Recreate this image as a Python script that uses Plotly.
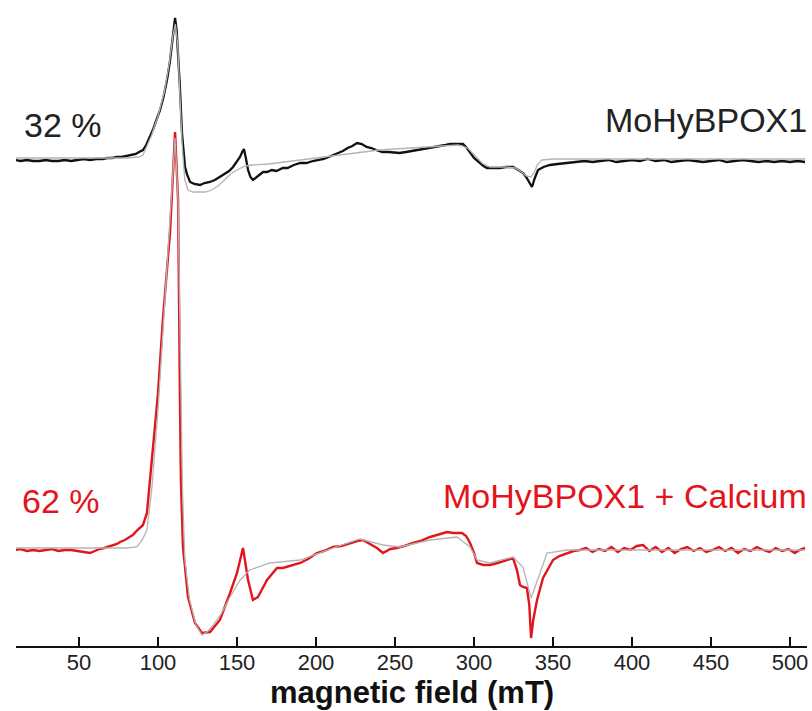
import plotly.graph_objects as go

# ---------------- data ----------------
# magnetic field (mT) and EPR signal (arbitrary units, baseline = 0)
black_field = [9.5, 13, 17, 21, 25, 29, 33, 37, 41, 45, 49, 53, 57, 61, 65, 68, 71, 74, 77, 80, 83, 86, 88, 90.5,
               92.5, 94.9, 97, 99, 101.3, 103.5, 105.7, 107.5, 108.9, 110, 110.8, 111.8, 112.7, 113.8, 115.2, 116.2,
               117.1, 118.5, 120.3, 123, 126.6, 129.5, 132.9, 136, 139.2, 142, 145, 147.5, 150, 151.9, 153.3, 154.4,
               155.6, 157, 158.5, 160.1, 162.5, 165, 166.5, 169, 172, 175, 179, 182, 186, 190, 194, 198, 201, 205,
               208, 211, 214, 217, 220, 223, 226, 229, 232, 235, 238, 242, 246, 250, 253, 257, 261, 265, 269, 274,
               278, 282, 285, 289, 293, 295.5, 297.5, 300, 303.8, 306, 308.2, 312, 316.5, 320, 324.7, 328, 331, 333,
               335, 336.7, 338.5, 340.5, 344, 348, 353, 359, 364, 370, 375, 380, 385, 390, 395, 400, 405, 410, 415,
               420, 425, 430, 435, 440, 445, 450, 455, 460, 465, 470, 475, 480, 485, 490, 495, 500, 505, 509.5]
black_signal = [0, -1, 0, -1, -1, 0, -1, -1, 0, -1, 0, 1, 0, 1, 1, 2, 2, 3, 3, 4, 5, 6, 8, 10,
                15, 23, 31, 40, 50, 63, 80, 98, 117, 133, 142, 130, 110, 75, 27, 5,
                -7, -15, -22, -24, -25, -23, -22, -20, -17, -14, -11, -7, -2, 3, 8, 11,
                2, -10, -17, -20, -17, -14, -12, -12, -10, -11, -8, -8, -5, -3, -3, -1, 0, 1,
                3, 5, 7, 9, 12, 14, 17, 16, 13, 12, 10, 8, 8, 7, 7, 8, 9, 10, 11, 13,
                14, 15, 16, 16, 16, 12, 7, 2, -3, -6, -8, -8, -8, -7, -7, -10, -13, -17,
                -22, -27, -18, -10, -7, -5, -4, -3, -2, -1, -2, -1, 0, -2, -1, 0, -1, 1, -1,
                0, -2, -1, 0, -1, -2, -1, 0, -2, -1, 0, -1, -2, -1, -2, -1, -2, -1, -2]

black_fit_field = [9.5, 30, 60, 80, 88, 90.5, 93, 96, 100, 104, 107, 109.5, 111, 112.5, 114, 115.5, 117, 119,
                   122, 126, 130, 134, 138, 142, 146, 150, 155, 160, 170, 180, 200, 220, 240, 260, 280, 290,
                   296, 300, 305, 310, 320, 326, 330, 333, 336, 338, 340, 343, 350, 400, 450, 509.5]
black_fit_signal = [2, 2, 2, 2, 3, 5, 14, 25, 44, 68, 95, 125, 136, 115, 60, 10, -20, -30,
                    -32, -32, -32, -30, -26, -20, -14, -10, -6, -5, -4, -2, 2, 6, 10, 12, 14, 15,
                    12, 5, -3, -7, -7, -8, -12, -16, -17, -13, -5, 0, 1, 1, 1, 1]

red_field = [9.5, 13, 17, 21, 25, 29, 33, 37, 41, 45, 49, 53, 57, 60, 63, 66, 68, 71, 74, 76, 79, 82, 84, 87,
             90.5, 93, 95, 97.5, 100, 103.2, 107.6, 110.8, 112.7, 113.9, 114.5, 115.8, 119, 123.4, 127.8, 132.9,
             139.2, 145.6, 150, 153.8, 157, 160.1, 163.3, 169, 172, 175.3, 179, 184, 190, 195, 200.6, 205, 210.8,
             216, 221.5, 226, 229.7, 234, 238.6, 242.4, 247, 251, 256, 261.4, 266, 272.2, 277, 282.9, 287,
             292.4, 295, 297.5, 300, 301.9, 306, 310.1, 315, 320.9, 324.7, 327.2, 329.1, 331, 333.5, 335, 336.1,
             337.5, 339.9, 343.7, 347, 350, 354, 358.9, 363, 367, 371, 375, 379, 383, 387, 391, 395, 399, 403,
             407, 411, 415, 419, 423, 427, 431, 435, 439, 443, 447, 451, 455, 459, 463, 467, 471, 475, 479, 483,
             487, 491, 495, 499, 503, 506, 509.5]
red_signal = [0, 1, -1, 0, -1, 0, 1, -1, 0, 0, -1, -2, -3, -1, 1, 2, 3, 5, 6, 8, 10, 13, 15, 20,
              25, 37, 70, 110, 157, 233, 317, 418, 350, 150, 70, 3, -47, -73, -83, -82,
              -70, -43, -23, 2, -30, -50, -47, -30, -24, -18, -18, -16, -13, -9, -3, -1, 3,
              4, 7, 9, 10, 6, 2, -3, 1, 2, 4, 7, 9, 13, 15, 18, 17,
              17, 14, 7, -3, -13, -15, -15, -13, -10, -8, -20, -35, -37, -38, -55, -88,
              -70, -50, -28, -18, -10, -6, -3, -1, 0, 2, -2, 1, -1, 3, -2, 2, 0, 4,
              5, -1, 3, -2, 2, -3, 1, 3, -1, 2, -2, 0, 3, -1, 2, -3, 1, -1, 3, 0,
              -2, 2, -1, 1, -3, 0, 2, -1]

red_fit_field = [9.5, 40, 80, 86.7, 90, 93, 96, 100, 104, 108, 110.8, 112.7, 114, 115.5, 117, 120, 124, 127.8,
                 131, 135, 140, 145.6, 152, 158, 170.9, 190, 210.8, 227.8, 242.4, 253.2, 272.2, 289.2, 297.5,
                 301.9, 310.1, 324.7, 331, 336.1, 341.8, 346.2, 358.9, 400, 509.5]
red_fit_signal = [2, 2, 2, 3, 10, 20, 60, 140, 240, 340, 412, 350, 200, 60, -10, -50, -75, -85,
                  -82, -75, -64, -47, -30, -20, -13, -10, 2, 11, 5, 3, 10, 13, 3,
                  -10, -13, -7, -17, -48, -23, -3, 0, 0, 0]

tick_values = [50, 100, 150, 200, 250, 300, 350, 400, 450, 500]
tick_labels = ["50", "100", "150", "200", "250", "300", "350", "400", "450", "500"]

# ---------------- layout constants ----------------
BLACK_OFFSET = 486
RED_OFFSET = 96
RED = "#e3141b"
FIT = "#b4b4b4"
FONT = "Liberation Sans, Arial, sans-serif"

fig = go.Figure()

def add(xs, ys, offset, color, width):
    fig.add_trace(go.Scatter(x=xs, y=[v + offset for v in ys], mode="lines",
                             line=dict(color=color, width=width), hoverinfo="skip", showlegend=False))

add(black_field, black_signal, BLACK_OFFSET, "#111111", 2.3)
add(black_fit_field, black_fit_signal, BLACK_OFFSET, FIT, 1.3)
add(red_field, red_signal, RED_OFFSET, RED, 2.4)
add(red_fit_field, red_fit_signal, RED_OFFSET, FIT, 1.3)

fig.add_annotation(xref="paper", x=0.007, y=521, text="32 %", showarrow=False, xanchor="left", yanchor="middle",
                   font=dict(family=FONT, size=34, color="#222222"))
fig.add_annotation(xref="paper", x=1.002, y=526, text="MoHyBPOX1", showarrow=False, xanchor="right",
                   yanchor="middle", font=dict(family=FONT, size=34, color="#222222"))
fig.add_annotation(xref="paper", x=0.005, y=145, text="62 %", showarrow=False, xanchor="left", yanchor="middle",
                   font=dict(family=FONT, size=34, color=RED))
fig.add_annotation(xref="paper", x=1.002, y=150, text="MoHyBPOX1 + Calcium", showarrow=False, xanchor="right",
                   yanchor="middle", font=dict(family=FONT, size=34, color=RED))
fig.add_annotation(xref="paper", yref="paper", x=0.5, y=-0.072, text="<b>magnetic field (mT)</b>",
                   showarrow=False, xanchor="center", yanchor="middle",
                   font=dict(family=FONT, size=31, color="#111111"))

fig.update_layout(
    width=812, height=711,
    margin=dict(l=16, r=5, t=5, b=65, autoexpand=False),
    paper_bgcolor="white", plot_bgcolor="white",
    xaxis=dict(range=[10.13, 510.76], showline=True, linecolor="#111111", linewidth=2,
               ticks="inside", ticklen=9, tickwidth=1.5, tickcolor="#111111",
               tickvals=tick_values, ticktext=tick_labels, showgrid=False, zeroline=False,
               automargin=False, ticklabelstandoff=-4,
               tickfont=dict(family=FONT, size=22, color="#222222")),
    yaxis=dict(range=[0, 641], visible=False, showgrid=False, zeroline=False, automargin=False),
)

fig.write_html("out.html", config={"displayModeBar": False},
               post_script="document.body.style.margin='0px';")
